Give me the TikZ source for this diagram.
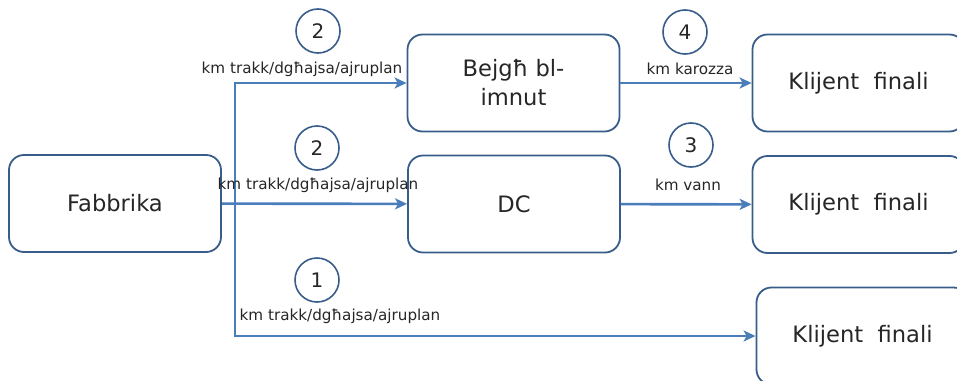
\documentclass[tikz,border=0pt]{standalone}
\usepackage{fontspec}
\setmainfont{DejaVu Sans}
\usepackage{tikz}
\usetikzlibrary{positioning,calc}
\usetikzlibrary{arrows.meta}

\definecolor{boxline}{RGB}{56,93,138}
\definecolor{flowblue}{RGB}{74,126,187}
\definecolor{txt}{RGB}{38,38,38}

\tikzset{
  stage/.style={draw=boxline,line width=1.8pt,rounded corners=15pt,minimum width=212pt,minimum height=97pt,align=center,text=txt,font=\fontsize{22.6}{29}\selectfont},
  stepnum/.style={circle,draw=boxline,line width=1.6pt,minimum size=44pt,inner sep=0pt,text=txt,font=\fontsize{20}{24}\selectfont},
  mode/.style={text=txt,inner sep=1pt,font=\fontsize{15.2}{18}\selectfont},
  flow/.style={draw=flowblue,line width=2.6pt,-{Stealth[length=12pt,width=11pt,inset=3pt]}}
}

\begin{document}
\begin{tikzpicture}[x=1pt,y=-1pt]
\useasboundingbox (0,0) rectangle (957,380);
	\node[stage] (fab) at (115,203.5) {Fabbrika};
	\node[stage] (retail) at (513.5,83) {Bejgħ bl-\\imnut};
	\node[stage] (dc) at (514,204) {DC};
	\node[stage] (cust1) at (858.5,83) {Klijent\ \ finali};
	\node[stage] (cust2) at (858.5,204.5) {Klijent\ \ finali};
	\node[stage] (cust3) at (862.5,336) {Klijent\ \ finali};
	\coordinate (split) at (235,204);
	% arrows
	\draw[flow] (fab) -- (dc);
	\draw[flow] (split) |- (retail.west);
	\draw[flow] (split) |- (cust3.west);
	\draw[flow] (retail) -- (cust1);
	\draw[flow] (dc) -- (cust2);
	% numbers and modes
	\node[stepnum] (n2a) at (318,31) {2};
	\node[stepnum] (n2b) at (317,148) {2};
	\node[stepnum] (n1) at (317,280) {1};
	\node[stepnum] (n4) at (685,32) {4};
	\node[stepnum] (n3) at (691,145) {3};
	\node[mode] (m2a) at (302,69) {km trakk/dgħajsa/ajruplan};
	\node[mode] (m2b) at (318,185) {km trakk/dgħajsa/ajruplan};
	\node[mode] (m1) at (340,316) {km trakk/dgħajsa/ajruplan};
	\node[mode] (m4) at (690,69) {km karozza};
	\node[mode] (m3) at (688,185) {km vann};
\end{tikzpicture}
\end{document}
